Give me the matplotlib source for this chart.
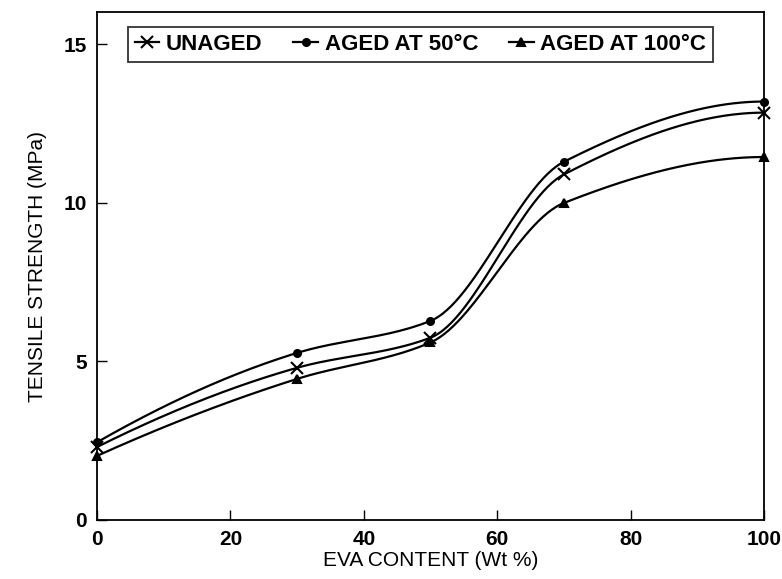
import numpy as np
import matplotlib
matplotlib.use("Agg")
import matplotlib.pyplot as plt
from matplotlib import font_manager

# data
eva = [0, 30, 50, 70, 100]
unaged = [2.3, 4.8, 5.75, 10.9, 12.85]
aged50 = [2.45, 5.27, 6.28, 11.3, 13.2]
aged100 = [2.02, 4.45, 5.6, 10.0, 11.45]
labels = ["UNAGED", "AGED AT 50°C", "AGED AT 100°C"]
xticks = [0, 20, 40, 60, 80, 100]
yticks = [0, 5, 10, 15]


def pchip(x, y, n=300):
    # monotone cubic, only to draw a smooth line through the points
    x = np.asarray(x, float)
    y = np.asarray(y, float)
    h = np.diff(x)
    dl = np.diff(y) / h
    m = np.zeros_like(y)
    for i in range(1, len(x) - 1):
        if dl[i - 1] * dl[i] > 0:
            w1 = 2 * h[i] + h[i - 1]
            w2 = h[i] + 2 * h[i - 1]
            m[i] = (w1 + w2) / (w1 / dl[i - 1] + w2 / dl[i])
    m[0] = ((2 * h[0] + h[1]) * dl[0] - h[0] * dl[1]) / (h[0] + h[1])
    m[-1] = ((2 * h[-1] + h[-2]) * dl[-1] - h[-1] * dl[-2]) / (h[-1] + h[-2])
    for j in (0, -1):
        if np.sign(m[j]) != np.sign(dl[j]):
            m[j] = 0
    xs = np.linspace(x[0], x[-1], n)
    ys = np.empty_like(xs)
    for k, t in enumerate(xs):
        i = min(np.searchsorted(x, t, side="right") - 1, len(x) - 2)
        s = (t - x[i]) / h[i]
        h00 = 2 * s**3 - 3 * s**2 + 1
        h10 = s**3 - 2 * s**2 + s
        h01 = -2 * s**3 + 3 * s**2
        h11 = s**3 - s**2
        ys[k] = h00 * y[i] + h10 * h[i] * m[i] + h01 * y[i + 1] + h11 * h[i] * m[i + 1]
    return xs, ys


names = [f.name for f in font_manager.fontManager.ttflist]
narrow = "Liberation Sans Narrow" if "Liberation Sans Narrow" in names else "Liberation Sans"
plt.rcParams["font.family"] = ["Liberation Sans", "DejaVu Sans"]

fig = plt.figure(figsize=(7.82, 5.79), dpi=100)
ax = fig.add_axes([0.124, 0.102, 0.853, 0.877])

series = [(unaged, "x", 8), (aged50, "o", 5), (aged100, "^", 6)]
handles = []
for (ys, m, ms), lab in zip(series, labels):
    sx, sy = pchip(eva, ys)
    ax.plot(sx, sy, color="black", lw=1.6)
    ax.plot(eva, ys, ls="none", marker=m, ms=ms, color="black", mew=1.5, clip_on=False)
    h, = ax.plot([], [], color="black", lw=1.6, marker=m, ms=ms, mew=1.5)
    handles.append(h)

ax.set_xlim(0, 100)
ax.set_ylim(0, 16.02)
ax.set_xticks(xticks)
ax.set_yticks(yticks)
ax.tick_params(direction="in", length=7, width=1, labelsize=15)
ax.tick_params(axis="x", pad=7)
ax.tick_params(axis="y", pad=7)
for t in ax.get_xticklabels() + ax.get_yticklabels():
    t.set_fontweight("bold")
for s in ax.spines.values():
    s.set_linewidth(1.3)

ax.set_xlabel("EVA CONTENT (Wt %)", fontsize=15, labelpad=2)
ax.set_ylabel("TENSILE STRENGTH (MPa)", fontsize=15, family=narrow, labelpad=12)

leg = ax.legend(handles, labels, ncol=3, loc="upper left", bbox_to_anchor=(0.03, 0.992),
                frameon=True, fancybox=False, edgecolor="black", handlelength=1.1,
                handletextpad=0.3, columnspacing=1.4, borderpad=0.3,
                prop={"weight": "bold", "size": 16})
leg.get_frame().set_linewidth(1.3)

fig.savefig("out.png", dpi=100)
